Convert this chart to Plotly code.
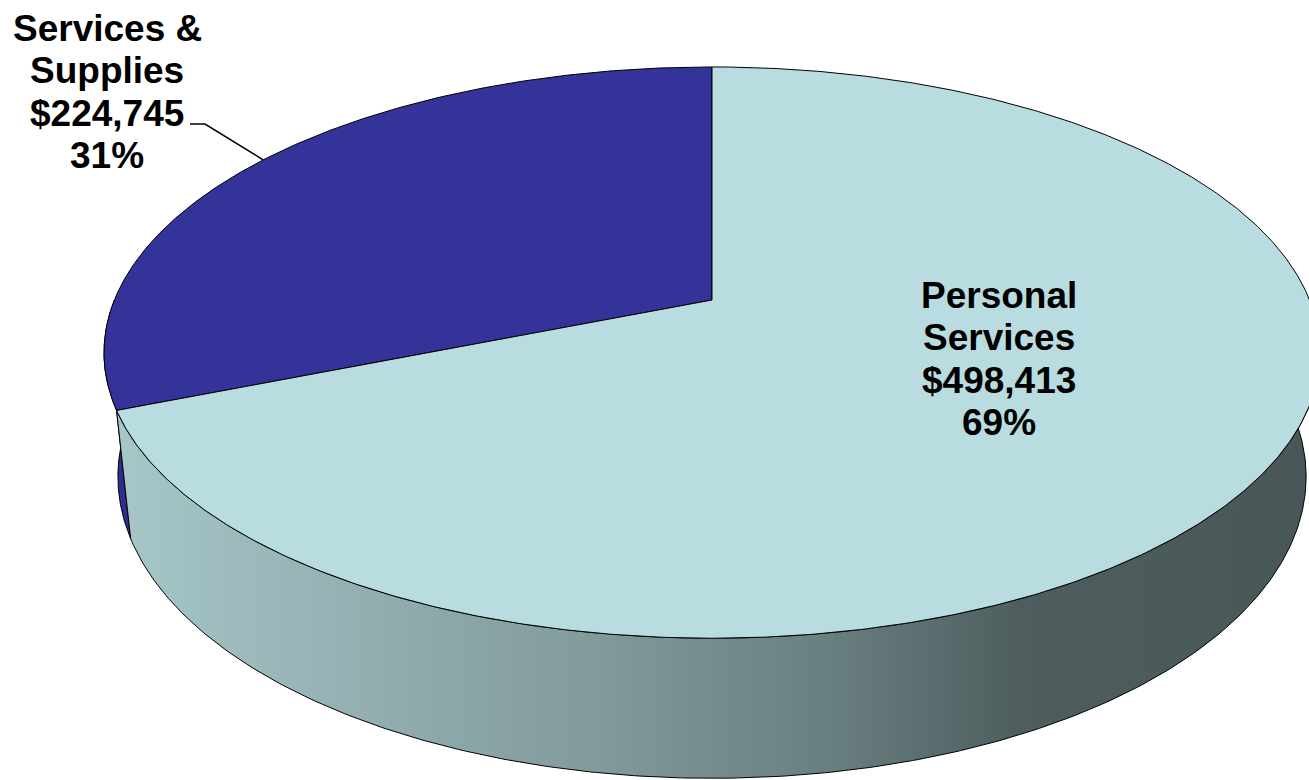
import numpy as np
import plotly.graph_objects as go

# ---- data ----
categories = ["Services & Supplies", "Personal Services"]
label_lines = [["Services &", "Supplies"], ["Personal", "Services"]]
values = [224745, 498413]
top_colors = ["#333399", "#b8dcdf"]
side_colors = ["#2d2d8e", None]  # None -> gradient
side_gradient = [[0.0, "#a6c6c8"], [0.15, "#98b5b7"], [0.4, "#819a9b"],
                 [0.6, "#687d7e"], [0.75, "#4e5e5f"], [1.0, "#485657"]]

# ---- projection (perspective 3D pie) ----
CX, CY = 712.0, 300.0      # screen position of pie centre
ALPHA = np.radians(27.5)   # camera tilt
SA, CA = np.sin(ALPHA), np.cos(ALPHA)
D = 4.819                  # camera distance (radius units)
F = 2880.0                 # focal scale (pixels)
H = 0.236                  # pie thickness (radius units)


def proj(phi, z=0.0):
    X, Y = np.cos(phi), np.sin(phi)
    xc = X
    yc = Y * SA + z * CA
    zc = D + Y * CA - z * SA
    return CX + F * xc / zc, CY - F * yc / zc


total = float(sum(values))
fracs = [v / total for v in values]
start = np.pi / 2
bounds = []
a = start
for f in fracs:
    bounds.append((a, a + 2 * np.pi * f))
    a += 2 * np.pi * f

fig = go.Figure()

# side walls (front half only, top faces cover the rest)
vis0, vis1 = np.pi, 2 * np.pi
for i, (a0, a1) in enumerate(bounds):
    segs = []
    for k in (-1, 0, 1):
        lo = max(a0 + 2 * np.pi * k, vis0)
        hi = min(a1 + 2 * np.pi * k, vis1)
        if hi > lo:
            segs.append((lo, hi))
    for lo, hi in segs:
        t = np.linspace(lo, hi, 300)
        xt, yt = proj(t, 0.0)
        xb, yb = proj(t[::-1], -H)
        xs = np.concatenate([xt, xb, xt[:1]])
        ys = np.concatenate([yt, yb, yt[:1]])
        kw = dict(x=xs, y=ys, mode="lines", fill="toself",
                  line=dict(color="#000000", width=1),
                  hoverinfo="skip", showlegend=False)
        if side_colors[i] is None:
            kw["fillgradient"] = dict(type="horizontal", colorscale=side_gradient)
        else:
            kw["fillcolor"] = side_colors[i]
        fig.add_trace(go.Scatter(**kw))

# top faces
for i, (a0, a1) in enumerate(bounds):
    t = np.linspace(a0, a1, 600)
    xr, yr = proj(t, 0.0)
    xs = np.concatenate([[CX], xr, [CX]])
    ys = np.concatenate([[CY], yr, [CY]])
    fig.add_trace(go.Scatter(x=xs, y=ys, mode="lines", fill="toself",
                             fillcolor=top_colors[i],
                             line=dict(color="#000000", width=1),
                             name=categories[i], hoverinfo="skip",
                             showlegend=False))

# leader line for first slice, ending on rim at slice mid-angle
mid0 = (bounds[0][0] + bounds[0][1]) / 2
lx, ly = proj(np.array([mid0]), 0.0)
fig.add_trace(go.Scatter(x=[190, 205, lx[0]], y=[124, 124, ly[0]], mode="lines",
                         line=dict(color="#000000", width=1.5),
                         hoverinfo="skip", showlegend=False))

# labels
label_pos = [(107, 28), (999, 295)]
LINE_H = 42.5
for i in range(len(values)):
    lines = label_lines[i] + [f"${values[i]:,}", f"{round(fracs[i] * 100):.0f}%"]
    x0, y0 = label_pos[i]
    for j, s in enumerate(lines):
        fig.add_annotation(x=x0, y=y0 + j * LINE_H, xref="x", yref="y",
                           text=f"<b>{s}</b>", showarrow=False,
                           xanchor="center", yanchor="middle",
                           font=dict(family="Liberation Sans, Arial, sans-serif",
                                     size=37, color="#000000"))

fig.update_layout(
    width=1309, height=780,
    margin=dict(l=0, r=0, t=0, b=0),
    paper_bgcolor="white", plot_bgcolor="white",
    xaxis=dict(range=[0, 1309], visible=False, fixedrange=True),
    yaxis=dict(range=[780, 0], visible=False, fixedrange=True),
)

fig.write_html("out.html",
               config={"displayModeBar": False},
               post_script="document.body.style.margin='0px';document.body.style.overflow='hidden';")
